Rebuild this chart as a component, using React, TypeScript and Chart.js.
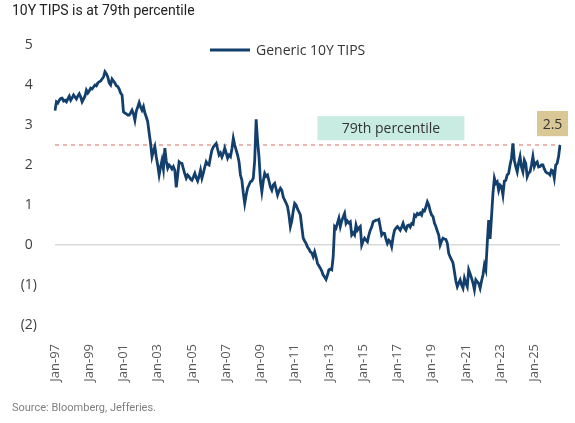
import { useEffect, useRef } from "react";
import { Chart, registerables } from "chart.js";

Chart.register(...registerables);

const titleText = "10Y TIPS is at 79th percentile";
const sourceText = "Source: Bloomberg, Jefferies.";
const seriesName = "Generic 10Y TIPS";
const percentileLevel = 2.5;
const percentileLabel = "79th percentile";
const lastValueLabel = "2.5";

const monthNames = ["Jan", "Feb", "Mar", "Apr", "May", "Jun", "Jul", "Aug", "Sep", "Oct", "Nov", "Dec"];
const firstYear = 1997;

// monthly generic 10Y TIPS yield (%)
const y1997 = [3.36, 3.58, 3.55, 3.62, 3.66, 3.67, 3.6, 3.62, 3.58, 3.65, 3.72, 3.62];
const y1998 = [3.68, 3.75, 3.7, 3.65, 3.72, 3.78, 3.7, 3.58, 3.65, 3.72, 3.87, 3.8];
const y1999 = [3.85, 3.92, 3.9, 3.95, 4.0, 3.98, 4.05, 4.08, 4.1, 4.15, 4.2, 4.33];
const y2000 = [4.28, 4.2, 4.05, 4.0, 4.15, 4.1, 4.05, 3.98, 3.96, 3.9, 3.8, 3.75];
const y2001 = [3.33, 3.3, 3.28, 3.25, 3.25, 3.3, 3.37, 3.28, 3.12, 3.35, 3.45, 3.56];
const y2002 = [3.45, 3.37, 3.46, 3.3, 3.2, 3.08, 2.8, 2.54, 2.21, 2.35, 2.46, 2.2];
const y2003 = [2.0, 1.75, 1.95, 2.12, 1.9, 2.42, 2.1, 1.92, 2.0, 1.96, 1.9, 1.96];
const y2004 = [1.87, 1.44, 1.75, 2.08, 2.05, 2.04, 1.9, 1.78, 1.67, 1.75, 1.71, 1.65];
const y2005 = [1.62, 1.7, 1.79, 1.68, 1.6, 1.72, 1.87, 1.67, 1.8, 1.95, 2.08, 2.02];
const y2006 = [2.0, 2.2, 2.37, 2.45, 2.5, 2.54, 2.4, 2.25, 2.3, 2.2, 2.29, 2.42];
const y2007 = [2.3, 2.17, 2.25, 2.21, 2.4, 2.67, 2.5, 2.37, 2.25, 2.08, 1.75, 1.62];
const y2008 = [1.3, 1.04, 1.25, 1.42, 1.5, 1.58, 1.6, 1.67, 2.12, 3.14, 2.6, 2.21];
const y2009 = [1.6, 1.33, 1.6, 1.79, 1.72, 1.75, 1.6, 1.45, 1.37, 1.5, 1.54, 1.4];
const y2010 = [1.25, 1.35, 1.42, 1.37, 1.2, 1.12, 1.05, 0.96, 0.75, 0.46, 0.6, 0.85];
const y2011 = [1.04, 1.0, 0.9, 0.83, 0.75, 0.45, 0.17, 0.1, 0.04, -0.05, -0.1, -0.17];
const y2012 = [-0.2, -0.29, -0.17, -0.3, -0.46, -0.52, -0.58, -0.65, -0.75, -0.8, -0.86, -0.75];
const y2013 = [-0.62, -0.6, -0.62, -0.3, 0.46, 0.42, 0.55, 0.67, 0.46, 0.6, 0.7, 0.79];
const y2014 = [0.54, 0.6, 0.55, 0.58, 0.25, 0.3, 0.25, 0.5, 0.37, 0.42, 0.46, 0.0];
const y2015 = [0.1, 0.17, 0.12, 0.08, 0.25, 0.37, 0.45, 0.58, 0.6, 0.62, 0.62, 0.64];
const y2016 = [0.45, 0.25, 0.3, 0.29, 0.15, 0.04, 0.12, 0.08, -0.04, 0.2, 0.37, 0.42];
const y2017 = [0.46, 0.42, 0.37, 0.45, 0.54, 0.42, 0.37, 0.48, 0.5, 0.45, 0.54, 0.52];
const y2018 = [0.75, 0.72, 0.79, 0.76, 0.8, 0.75, 0.87, 0.85, 0.95, 1.08, 1.0, 0.85];
const y2019 = [0.75, 0.71, 0.55, 0.46, 0.35, 0.25, 0.0, 0.1, 0.17, 0.15, 0.14, 0.05];
const y2020 = [-0.21, -0.3, -0.37, -0.45, -0.67, -0.9, -1.04, -0.95, -0.87, -1.0, -1.08, -0.83];
const y2021 = [-0.95, -1.04, -0.62, -0.72, -0.83, -0.95, -1.12, -0.87, -0.92, -0.96, -1.08, -0.9];
const y2022 = [-0.75, -0.5, -0.62, 0.04, 0.62, 0.15, 0.71, 1.29, 1.67, 1.54, 1.58, 1.37];
const y2023 = [1.5, 1.46, 1.25, 1.6, 1.62, 1.75, 1.79, 2.0, 2.17, 2.54, 2.12, 1.96];
const y2024 = [1.83, 2.05, 2.21, 1.95, 1.83, 2.12, 2.04, 1.71, 1.8, 1.83, 2.0, 2.21];
const y2025 = [1.96, 2.05, 2.08, 1.95, 1.96, 2.0, 2.0, 1.9, 1.83, 1.8, 1.79, 1.75];
const y2026 = [1.87, 1.85, 1.67, 2.0, 2.04, 2.21, 2.5];

const tipsYield = [
  ...y1997, ...y1998, ...y1999, ...y2000, ...y2001, ...y2002, ...y2003, ...y2004,
  ...y2005, ...y2006, ...y2007, ...y2008, ...y2009, ...y2010, ...y2011, ...y2012,
  ...y2013, ...y2014, ...y2015, ...y2016, ...y2017, ...y2018, ...y2019, ...y2020,
  ...y2021, ...y2022, ...y2023, ...y2024, ...y2025, ...y2026,
];

const monthLabels = tipsYield.map(
  (_, i) => `${monthNames[i % 12]}-${String((firstYear + Math.floor(i / 12)) % 100).padStart(2, "0")}`
);

const shownTicks = [
  "Jan-97", "Jan-99", "Jan-01", "Jan-03", "Jan-05", "Jan-07", "Jan-09", "Jan-11",
  "Jan-13", "Jan-15", "Jan-17", "Jan-19", "Jan-21", "Jan-23", "Jan-25",
];

const yMin = -2;
const yMax = 5;

const navy = "#133f6d";

// dashed percentile line, legend and the two labelled boxes
const annotations = {
  id: "annotations",
  beforeDatasetsDraw(chart: any) {
    const { ctx, chartArea, scales } = chart;
    const y = scales.y.getPixelForValue(percentileLevel);
    ctx.save();
    ctx.strokeStyle = "#e2a096";
    ctx.lineWidth = 1.5;
    ctx.setLineDash([4, 4]);
    ctx.beginPath();
    ctx.moveTo(chartArea.left, y);
    ctx.lineTo(chartArea.right, y);
    ctx.stroke();
    ctx.restore();
  },
  afterDraw(chart: any) {
    const { ctx, chartArea, scales } = chart;
    ctx.save();
    // legend
    const legX = chartArea.left + 155;
    const legY = chartArea.top + 5;
    ctx.strokeStyle = navy;
    ctx.lineWidth = 3;
    ctx.beginPath();
    ctx.moveTo(legX, legY);
    ctx.lineTo(legX + 40, legY);
    ctx.stroke();
    ctx.fillStyle = "#333333";
    ctx.font = "14px 'Open Sans'";
    ctx.textAlign = "left";
    ctx.textBaseline = "middle";
    ctx.fillText(seriesName, legX + 46, legY + 1);
    // 79th percentile box
    const bx0 = scales.x.getPixelForValue(184);
    const bx1 = scales.x.getPixelForValue(287);
    const by0 = scales.y.getPixelForValue(3.22);
    const by1 = scales.y.getPixelForValue(2.62);
    ctx.fillStyle = "#c8ece2";
    ctx.fillRect(bx0, by0, bx1 - bx0, by1 - by0);
    ctx.fillStyle = "#333333";
    ctx.textAlign = "center";
    ctx.fillText(percentileLabel, (bx0 + bx1) / 2, (by0 + by1) / 2 + 1);
    // last value box
    const lx1 = chartArea.right + 8;
    const lx0 = lx1 - 31;
    const ly0 = scales.y.getPixelForValue(3.35);
    const ly1 = scales.y.getPixelForValue(2.72);
    ctx.fillStyle = "#d9c896";
    ctx.fillRect(lx0, ly0, lx1 - lx0, ly1 - ly0);
    ctx.fillStyle = "#333333";
    ctx.fillText(lastValueLabel, (lx0 + lx1) / 2, (ly0 + ly1) / 2 + 1);
    ctx.restore();
  },
};

function TipsChart() {
  const canvasRef = useRef<HTMLCanvasElement | null>(null);

  useEffect(() => {
    if (!canvasRef.current) return;
    const chart = new Chart(canvasRef.current, {
      type: "line",
      data: {
        labels: monthLabels,
        datasets: [
          {
            label: seriesName,
            data: tipsYield,
            borderColor: navy,
            backgroundColor: navy,
            borderWidth: 2.8,
            pointRadius: 0,
            tension: 0,
          },
        ],
      },
      options: {
        responsive: false,
        animation: false,
        layout: { padding: { top: 45, right: 15, bottom: 28, left: 0 } },
        plugins: {
          tooltip: { enabled: false },
          legend: { display: false },
        },
        scales: {
          x: {
            type: "category",
            offset: false,
            grid: { display: false },
            border: { display: false },
            afterFit: (scale: any) => {
              scale.height = 70;
            },
            ticks: {
              autoSkip: false,
              maxRotation: 90,
              minRotation: 90,
              padding: 11,
              color: "#595959",
              font: { family: "'Open Sans'", size: 13 },
              callback: (_v: any, i: number) =>
                shownTicks.includes(monthLabels[i]) ? monthLabels[i] : null,
            },
          },
          y: {
            min: yMin,
            max: yMax,
            afterFit: (scale: any) => {
              scale.width = 55;
            },
            border: { display: false },
            grid: {
              drawTicks: false,
              lineWidth: 1.5,
              color: (c: any) => (c.tick && c.tick.value === 0 ? "#d9d9d9" : "rgba(0,0,0,0)"),
            },
            ticks: {
              stepSize: 1,
              crossAlign: "center",
              padding: 18,
              color: "#404040",
              font: { family: "'Open Sans'", size: 14 },
              callback: (v: any) => (Number(v) < 0 ? `(${Math.abs(Number(v))})` : `${v}`),
            },
          },
        },
      },
      plugins: [annotations],
    });
    return () => chart.destroy();
  }, []);

  return (
    <canvas
      ref={canvasRef}
      width={575}
      height={423}
      style={{ position: "absolute", left: 0, top: 0, width: 575, height: 423 }}
    />
  );
}

export default function App() {
  return (
    <div
      style={{
        position: "fixed",
        left: 0,
        top: 0,
        width: 575,
        height: 423,
        background: "#ffffff",
        overflow: "hidden",
      }}
    >
      <TipsChart />
      <div
        style={{
          position: "absolute",
          left: 12,
          top: 2,
          font: "14px Roboto",
          color: "#222222",
          whiteSpace: "nowrap",
        }}
      >
        {titleText}
      </div>
      <div
        style={{
          position: "absolute",
          left: 12,
          top: 401,
          font: "11px Roboto",
          color: "#7f7f7f",
          whiteSpace: "nowrap",
        }}
      >
        {sourceText}
      </div>
    </div>
  );
}
